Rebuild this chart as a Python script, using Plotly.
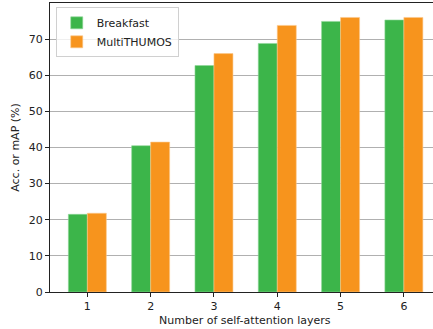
import plotly.graph_objects as go

layers = [1, 2, 3, 4, 5, 6]
tick_labels = ["1", "2", "3", "4", "5", "6"]
breakfast = [21.5, 40.5, 62.7, 68.8, 74.9, 75.3]
multithumos = [21.8, 41.5, 66.0, 73.8, 76.0, 76.0]

green = "#3cb54a"
orange = "#f7941d"
font = dict(family="DejaVu Sans", size=11, color="#222222")

fig = go.Figure()
fig.add_trace(go.Bar(x=layers, y=breakfast, name="Breakfast", width=0.3, offset=-0.3,
                     marker=dict(color=green, line=dict(color="#8fd699", width=0.6))))
fig.add_trace(go.Bar(x=layers, y=multithumos, name="MultiTHUMOS", width=0.3, offset=0.0,
                     marker=dict(color=orange, line=dict(color="#fbc88c", width=0.6))))

fig.update_layout(
    width=433, height=329,
    margin=dict(l=50, r=0, t=3, b=37),
    plot_bgcolor="white", paper_bgcolor="white",
    font=font,
    showlegend=True,
    legend=dict(x=0.015, y=0.985, xanchor="left", yanchor="top",
                bgcolor="rgba(255,255,255,0.8)", bordercolor="#d0d0d0", borderwidth=1,
                font=font, tracegroupgap=0, itemwidth=30),
    xaxis=dict(range=[0.41, 6.46], tickvals=layers, ticktext=tick_labels,
               showgrid=False, showline=True, linecolor="#222222", linewidth=1,
               mirror=True, ticks="outside", ticklen=4, tickcolor="#222222",
               zeroline=False),
    yaxis=dict(range=[0, 80], tickvals=[0, 10, 20, 30, 40, 50, 60, 70],
               showgrid=True, gridcolor="#b0b0b0", gridwidth=0.8,
               showline=True, linecolor="#222222", linewidth=1,
               ticks="outside", ticklen=4, tickcolor="#222222", zeroline=False,
               title=dict(text="Acc. or mAP (%)", standoff=6, font=font)),
    annotations=[dict(text="Number of self-attention layers", xref="paper", yref="paper",
                      x=(245 - 50) / 383, y=0, yshift=-20, showarrow=False,
                      xanchor="center", yanchor="top", font=font)],
)

fig.write_html("out.html")
